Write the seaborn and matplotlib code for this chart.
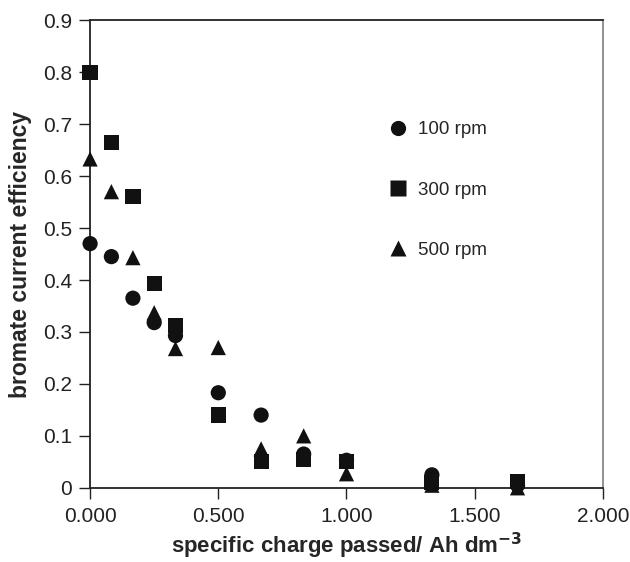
import numpy as np
import pandas as pd
import seaborn as sns
import matplotlib.pyplot as plt
from matplotlib.ticker import FormatStrFormatter

sns.set_style("white")
plt.rcParams["font.family"] = ["Liberation Sans", "DejaVu Sans"]

charge = [0.0, 0.083, 0.167, 0.25, 0.333, 0.5, 0.667, 0.833, 1.0, 1.333, 1.667]
eff_100 = [0.47, 0.445, 0.365, 0.318, 0.293, 0.183, 0.14, 0.065, 0.053, 0.025, 0.005]
eff_300 = [0.80, 0.665, 0.56, 0.393, 0.313, 0.14, 0.05, 0.055, 0.05, 0.01, 0.012]
eff_500 = [0.633, 0.57, 0.443, 0.337, 0.268, 0.27, 0.075, 0.10, 0.027, 0.005, 0.0]
speeds = ["100 rpm", "300 rpm", "500 rpm"]

df = pd.DataFrame({
    "charge": charge * 3,
    "eff": eff_100 + eff_300 + eff_500,
    "speed": np.repeat(speeds, len(charge)),
})

fig = plt.figure(figsize=(6.3, 5.62), dpi=100)
ax = fig.add_axes([0.143, 0.132, 0.814, 0.832])

sns.scatterplot(data=df, x="charge", y="eff", style="speed",
                markers={"100 rpm": "o", "300 rpm": "s", "500 rpm": "^"},
                color="#111111", s=120, edgecolor="none", ax=ax,
                clip_on=False, zorder=3)

ax.set_xlim(0, 2.0)
ax.set_ylim(0, 0.9)
ax.set_xticks([0, 0.5, 1.0, 1.5, 2.0])
ax.set_yticks(np.arange(0, 0.91, 0.1))
ax.xaxis.set_major_formatter(FormatStrFormatter("%.3f"))
ax.set_yticklabels(["0", "0.1", "0.2", "0.3", "0.4", "0.5", "0.6", "0.7", "0.8", "0.9"])
ax.tick_params(axis="both", direction="out", length=8, width=1, labelsize=15,
               colors="#222222", bottom=True, left=True)
ax.tick_params(axis="x", pad=6)
ax.tick_params(axis="y", pad=5)

for side in ["left", "bottom", "top"]:
    ax.spines[side].set_color("#222222")
    ax.spines[side].set_linewidth(1.3)
ax.spines["right"].set_color("#888888")
ax.spines["right"].set_linewidth(1.3)

ax.set_xlabel("specific charge passed/ Ah dm$^{\\mathbf{-3}}$", fontsize=16,
              fontweight="bold", labelpad=3)
ax.set_ylabel("bromate current efficiency", fontsize=16.5, fontweight="bold", labelpad=8)

ax.legend(frameon=False, loc="upper left", bbox_to_anchor=(0.53, 0.82),
          fontsize=13.5, labelspacing=2.3, handletextpad=0.1, markerscale=1.0,
          title=None)

fig.savefig("out.png", dpi=100)
